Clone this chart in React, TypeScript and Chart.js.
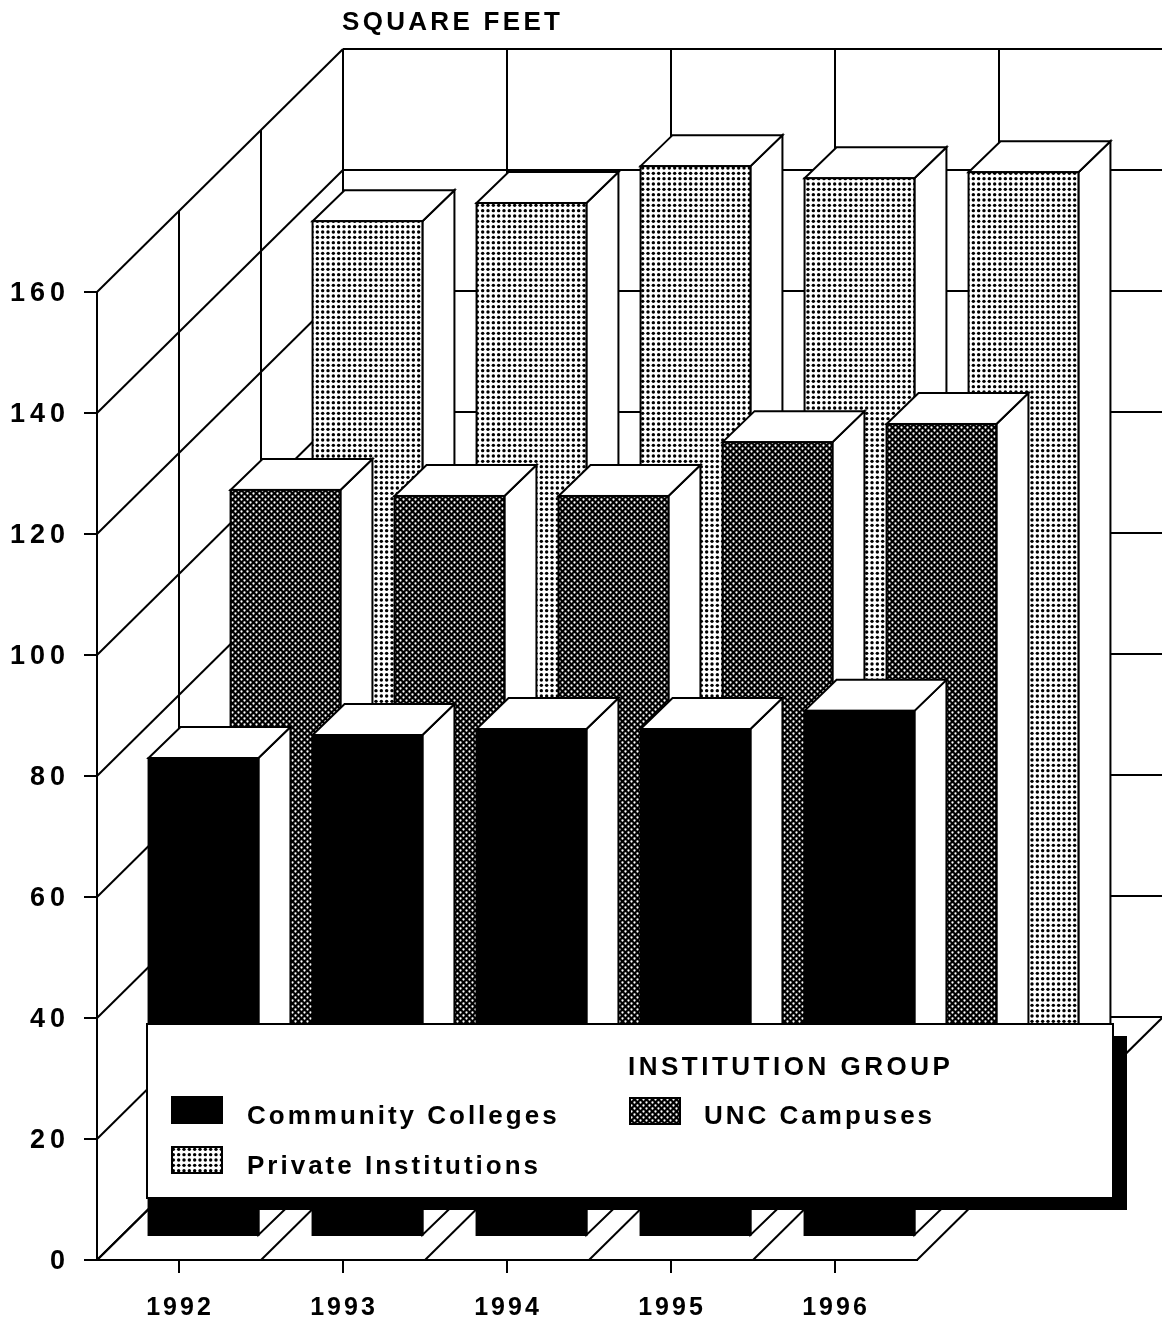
import React, { useEffect, useRef } from "react";
import { Chart, registerables } from "chart.js";

Chart.register(...registerables);

const years = ["1992", "1993", "1994", "1995", "1996"];
const communityColleges = [79, 82.8, 83.8, 83.8, 86.8];
const uncCampuses = [109.6, 108.6, 108.6, 117.5, 120.5];
const privateInstitutions = [140.3, 143.3, 149.4, 147.4, 148.4];
const yTicks = { min: 0, max: 160, stepSize: 20 };
const axisTitle = "SQUARE FEET";
const legendTitle = "INSTITUTION GROUP";

const W = 1162;
const H = 1321;
const FONT = '"Liberation Sans", Arial, sans-serif';
const SPACING = "3px";
const Y_SPACING = "5px";

function dotPattern(ctx: CanvasRenderingContext2D) {
  const c = document.createElement("canvas");
  c.width = 16;
  c.height = 16;
  const g = c.getContext("2d")!;
  g.fillStyle = "#fff";
  g.fillRect(0, 0, 16, 16);
  g.fillStyle = "#000";
  for (let i = 0; i < 3; i++) {
    for (let j = 0; j < 3; j++) {
      g.beginPath();
      g.arc(2.67 + i * 5.333, 2.67 + j * 5.333, 1.7, 0, Math.PI * 2);
      g.fill();
    }
  }
  return ctx.createPattern(c, "repeat")!;
}

function meshPattern(ctx: CanvasRenderingContext2D) {
  const c = document.createElement("canvas");
  c.width = 6;
  c.height = 6;
  const g = c.getContext("2d")!;
  g.fillStyle = "#000";
  g.fillRect(0, 0, 6, 6);
  g.fillStyle = "#fff";
  g.beginPath();
  g.arc(1.5, 1.5, 1.15, 0, Math.PI * 2);
  g.arc(4.5, 4.5, 1.15, 0, Math.PI * 2);
  g.fill();
  return ctx.createPattern(c, "repeat")!;
}

const line = (ctx: CanvasRenderingContext2D, x1: number, y1: number, x2: number, y2: number) => {
  ctx.beginPath();
  ctx.moveTo(x1, y1);
  ctx.lineTo(x2, y2);
  ctx.stroke();
};

const DEPTH_X = 246;
const DEPTH_Y = 243;
const rowDx = [24.5, 106.5, 188.5];
const rowDy = [-24, -107, -190];
const BAR_DX = 32;
const BAR_DY = -31;

const box3d = {
  id: "box3d",
  beforeDraw(chart: any) {
    const ctx = chart.ctx;
    ctx.letterSpacing = SPACING;
    const ys = chart.scales.y;
    if (!ys.__spaced) {
      const orig = ys.drawLabels;
      ys.drawLabels = function (area: any) {
        ctx.letterSpacing = Y_SPACING;
        orig.call(this, area);
        ctx.letterSpacing = SPACING;
      };
      ys.__spaced = true;
    }
    ctx.fillStyle = "#fff";
    ctx.fillRect(0, 0, W, H);
  },
  beforeDatasetsDraw(chart: any) {
    const ctx = chart.ctx;
    const y = chart.scales.y;
    const { left, right, bottom, top } = chart.chartArea;
    const step = (right - left) / years.length;
    ctx.save();
    ctx.strokeStyle = "#000";
    ctx.lineWidth = 2;
    for (let v = yTicks.min; v <= yTicks.max; v += yTicks.stepSize) {
      const py = y.getPixelForValue(v);
      line(ctx, left, py, left + DEPTH_X, py - DEPTH_Y);
      line(ctx, left + DEPTH_X, py - DEPTH_Y, W, py - DEPTH_Y);
    }
    for (let i = 0; i <= years.length; i++) {
      const px = left + i * step;
      line(ctx, px, bottom, px + DEPTH_X, bottom - DEPTH_Y);
      if (i < years.length) line(ctx, px + DEPTH_X, top - DEPTH_Y, px + DEPTH_X, bottom - DEPTH_Y);
    }
    for (const f of [1 / 3, 2 / 3, 1]) {
      line(ctx, left + f * DEPTH_X, top - f * DEPTH_Y, left + f * DEPTH_X, bottom - f * DEPTH_Y);
    }
    ctx.restore();
  },
  beforeDatasetDraw(chart: any, args: any) {
    const ctx = chart.ctx;
    const row = args.index;
    const ds = chart.data.datasets[row];
    const meta = chart.getDatasetMeta(row);
    ctx.save();
    ctx.strokeStyle = "#000";
    ctx.lineWidth = 2;
    ctx.lineJoin = "miter";
    meta.data.forEach((el: any) => {
      const l = el.x - el.width / 2 + rowDx[row];
      const r = el.x + el.width / 2 + rowDx[row];
      const t = el.y + rowDy[row];
      const b = el.base + rowDy[row];
      ctx.fillStyle = "#fff";
      ctx.beginPath();
      ctx.moveTo(r, t);
      ctx.lineTo(r + BAR_DX, t + BAR_DY);
      ctx.lineTo(r + BAR_DX, b + BAR_DY);
      ctx.lineTo(r, b);
      ctx.closePath();
      ctx.fill();
      ctx.stroke();
      ctx.beginPath();
      ctx.moveTo(l, t);
      ctx.lineTo(l + BAR_DX, t + BAR_DY);
      ctx.lineTo(r + BAR_DX, t + BAR_DY);
      ctx.lineTo(r, t);
      ctx.closePath();
      ctx.fill();
      ctx.stroke();
      ctx.fillStyle = ds.backgroundColor;
      ctx.fillRect(l, t, r - l, b - t);
      ctx.strokeRect(l, t, r - l, b - t);
    });
    ctx.restore();
    return false;
  },
  afterDraw(chart: any) {
    const ctx = chart.ctx;
    const ds = chart.data.datasets;
    ctx.save();
    ctx.fillStyle = "#000";
    ctx.fillRect(160, 1036, 967, 174);
    ctx.fillStyle = "#fff";
    ctx.strokeStyle = "#000";
    ctx.lineWidth = 2;
    ctx.fillRect(147, 1024, 966, 174);
    ctx.strokeRect(147, 1024, 966, 174);

    ctx.textBaseline = "alphabetic";
    ctx.textAlign = "left";
    ctx.font = `bold 26px ${FONT}`;
    ctx.fillStyle = "#000";
    ctx.letterSpacing = "3.3px";
    ctx.fillText(axisTitle, 342, 30);
    ctx.letterSpacing = "3.5px";
    ctx.fillText(legendTitle, 628, 1075);
    ctx.letterSpacing = SPACING;

    const items = [
      { i: 0, sx: 172, sy: 1097, tx: 247, ty: 1124 },
      { i: 1, sx: 630, sy: 1098, tx: 704, ty: 1124 },
      { i: 2, sx: 172, sy: 1147, tx: 247, ty: 1174 },
    ];
    for (const it of items) {
      ctx.fillStyle = ds[it.i].backgroundColor;
      ctx.fillRect(it.sx, it.sy, 50, 26);
      ctx.strokeRect(it.sx, it.sy, 50, 26);
      ctx.fillStyle = "#000";
      ctx.fillText(ds[it.i].label, it.tx, it.ty);
    }
    ctx.restore();
  },
};

export default function App() {
  const ref = useRef<HTMLCanvasElement>(null);
  useEffect(() => {
    const canvas = ref.current!;
    const ctx = canvas.getContext("2d")!;
    const chart = new Chart(canvas, {
      type: "bar",
      data: {
        labels: years,
        datasets: [
          { label: "Community Colleges", data: communityColleges, backgroundColor: "#000" as any },
          { label: "UNC Campuses", data: uncCampuses, backgroundColor: meshPattern(ctx) as any },
          { label: "Private Institutions", data: privateInstitutions, backgroundColor: dotPattern(ctx) as any },
        ],
      },
      options: {
        animation: false,
        responsive: false,
        devicePixelRatio: 1,
        layout: { padding: { top: 292, right: W - 917, left: 0, bottom: 0 } },
        plugins: { legend: { display: false }, title: { display: false }, tooltip: { enabled: false } },
        datasets: { bar: { grouped: false, categoryPercentage: 1, barPercentage: 0.67 } },
        scales: {
          x: {
            grid: { offset: false, drawOnChartArea: false, drawTicks: true, tickLength: 13, color: "#000", lineWidth: 2 },
            border: { display: true, color: "#000", width: 2 },
            ticks: {
              color: "#000",
              font: { family: FONT, size: 25, weight: "bold" },
              padding: 20,
              labelOffset: 1,
              maxRotation: 0,
              autoSkip: false,
            },
            afterFit(s: any) {
              s.height = H - 1260;
            },
          },
          y: {
            min: yTicks.min,
            max: yTicks.max,
            grid: { drawOnChartArea: false, drawTicks: true, tickLength: 13, color: "#000", lineWidth: 2 },
            border: { display: true, color: "#000", width: 2 },
            ticks: {
              stepSize: yTicks.stepSize,
              color: "#000",
              font: { family: FONT, size: 27, weight: "bold" },
              padding: 14,
              labelOffset: 2,
            },
            afterFit(s: any) {
              s.width = 97;
            },
          },
        },
      } as any,
      plugins: [box3d as any],
    });
    return () => chart.destroy();
  }, []);
  return (
    <canvas
      ref={ref}
      width={W}
      height={H}
      style={{ position: "absolute", left: 0, top: 0, width: W, height: H, display: "block" }}
    />
  );
}
